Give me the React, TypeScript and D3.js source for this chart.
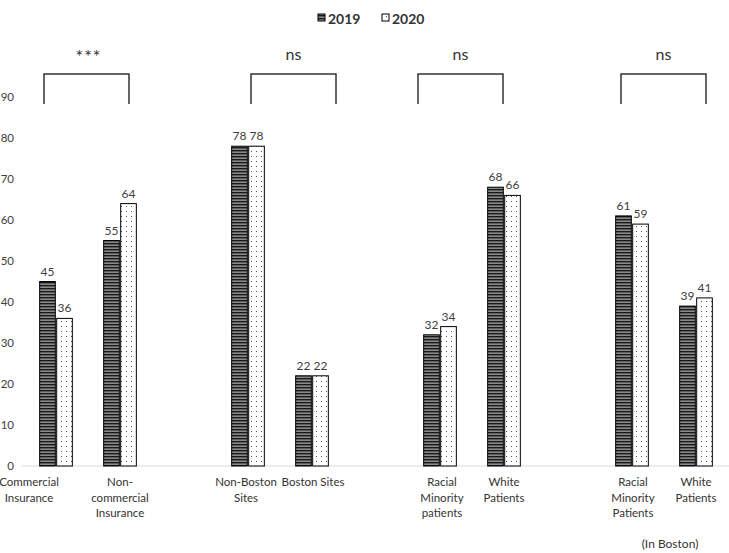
import React, { useRef, useEffect } from 'react'
import * as d3 from 'd3'

// slots: the g* entries are empty gaps between groups
const slots = ['c', 'nc', 'g1', 'nb', 'b', 'g2', 'rm', 'w', 'g3', 'rmb', 'wb']
const categories = ['c', 'nc', 'nb', 'b', 'rm', 'w', 'rmb', 'wb']
const categoryLabels = [
    ['Commercial', 'Insurance'],
    ['Non-', 'commercial', 'Insurance'],
    ['Non-Boston', 'Sites'],
    ['Boston Sites'],
    ['Racial', 'Minority', 'patients'],
    ['White', 'Patients'],
    ['Racial', 'Minority', 'Patients'],
    ['White', 'Patients'],
]
const labelShift = [-27, 0, -2, 1, 2, 0, 1, 0]
const series = ['2019', '2020']
const values2019 = [45, 55, 78, 22, 32, 68, 61, 39]
const values2020 = [36, 64, 78, 22, 34, 66, 59, 41]
const yTicks = [0, 10, 20, 30, 40, 50, 60, 70, 80, 90]
const bracketFrom = ['c', 'nb', 'rm', 'rmb']
const bracketTo = ['nc', 'b', 'w', 'wb']
const bracketLabels = ['***', 'ns', 'ns', 'ns']
const bracketShift = [-1.5, 13.5, -11.5, -0.5]

const App = () => {
    const visEl = useRef(null)
    const width = 729
    const height = 553

    useEffect(() => {
        const root = d3.select(visEl.current)
        root.selectAll('*').remove()
        const svg = root.append('svg')
            .attr('width', width)
            .attr('height', height)
            .style('display', 'block')
            .style('font-family', 'Lato, "Open Sans", sans-serif')

        const defs = svg.append('defs')
        const stripes = defs.append('pattern')
            .attr('id', 'stripes')
            .attr('patternUnits', 'userSpaceOnUse')
            .attr('width', 4).attr('height', 3)
        stripes.append('rect').attr('width', 4).attr('height', 3).attr('fill', '#8a8a8a')
        stripes.append('rect').attr('width', 4).attr('height', 1.4).attr('fill', '#1a1a1a')
        const dots = defs.append('pattern')
            .attr('id', 'dots')
            .attr('patternUnits', 'userSpaceOnUse')
            .attr('width', 5).attr('height', 5)
        dots.append('rect').attr('width', 5).attr('height', 5).attr('fill', '#fff')
        dots.append('rect').attr('x', 1).attr('y', 1).attr('width', 1).attr('height', 1).attr('fill', '#555')

        const x = d3.scaleBand().domain(slots).range([24, 728])
        const xs = d3.scaleBand().domain(series).range([0, x.bandwidth()]).paddingInner(0.08).paddingOuter(0.92)
        const y = d3.scaleLinear().domain([0, 90]).range([466, 97])

        // x axis line
        svg.append('line')
            .attr('x1', 22).attr('x2', 729)
            .attr('y1', y(0)).attr('y2', y(0))
            .attr('stroke', '#d9d9d9').attr('stroke-width', 1)

        // y ticks
        svg.append('g').selectAll('text').data(yTicks).enter().append('text')
            .attr('x', 14).attr('y', d => y(d) + 4)
            .attr('text-anchor', 'end')
            .attr('font-size', 11.5).attr('fill', '#404040')
            .text(d => d)

        const rows = categories.map((c, i) => ({ c, v: [values2019[i], values2020[i]], label: categoryLabels[i], dx: labelShift[i] }))
        const g = svg.append('g')
        rows.forEach(r => {
            series.forEach((s, j) => {
                const bx = x(r.c) + xs(s)
                g.append('rect')
                    .attr('x', bx).attr('y', y(r.v[j]))
                    .attr('width', xs.bandwidth()).attr('height', y(0) - y(r.v[j]))
                    .attr('fill', j === 0 ? 'url(#stripes)' : 'url(#dots)')
                    .attr('stroke', '#000').attr('stroke-width', 1)
                g.append('text')
                    .attr('x', bx + xs.bandwidth() / 2).attr('y', y(r.v[j]) - 6)
                    .attr('text-anchor', 'middle')
                    .attr('font-size', 12).attr('fill', '#404040')
                    .text(r.v[j])
            })
            const t = g.append('text')
                .attr('text-anchor', 'middle')
                .attr('font-size', 11.5).attr('fill', '#333')
            r.label.forEach((line, k) => {
                t.append('tspan')
                    .attr('x', x(r.c) + x.bandwidth() / 2 + r.dx)
                    .attr('y', 486 + k * 15.5)
                    .text(line)
            })
        })

        svg.append('text')
            .attr('x', 670).attr('y', 548)
            .attr('text-anchor', 'middle')
            .attr('font-size', 12).attr('fill', '#333')
            .text('(In Boston)')

        // significance brackets
        bracketFrom.forEach((from, i) => {
            const cx = (x(from) + x(bracketTo[i]) + x.bandwidth()) / 2 + bracketShift[i]
            const x1 = cx - 42.5
            const x2 = cx + 42.5
            svg.append('path')
                .attr('d', `M${x1},104V74H${x2}V104`)
                .attr('fill', 'none').attr('stroke', '#333').attr('stroke-width', 1.5)
            const star = bracketLabels[i] === '***'
            svg.append('text')
                .attr('x', cx + (star ? 2 : 0)).attr('y', star ? 63 : 60)
                .attr('text-anchor', 'middle')
                .attr('font-size', star ? 18 : 16)
                .attr('letter-spacing', star ? 1 : 0)
                .attr('fill', '#333')
                .text(bracketLabels[i])
        })

        // legend
        const legend = svg.append('g')
        series.forEach((s, i) => {
            const lx = 318 + i * 64
            legend.append('rect')
                .attr('x', lx).attr('y', 14).attr('width', 7).attr('height', 7)
                .attr('fill', i === 0 ? 'url(#stripes)' : 'url(#dots)')
                .attr('stroke', '#000').attr('stroke-width', 1)
            legend.append('text')
                .attr('x', lx + 10).attr('y', 24)
                .attr('font-size', 14).attr('font-weight', 'bold').attr('fill', '#333')
                .text(s)
        })
    }, [])

    return (
        <div style={{ position: 'absolute', left: 0, top: 0 }}>
            <div ref={visEl}></div>
        </div>
    )
}

export default App
